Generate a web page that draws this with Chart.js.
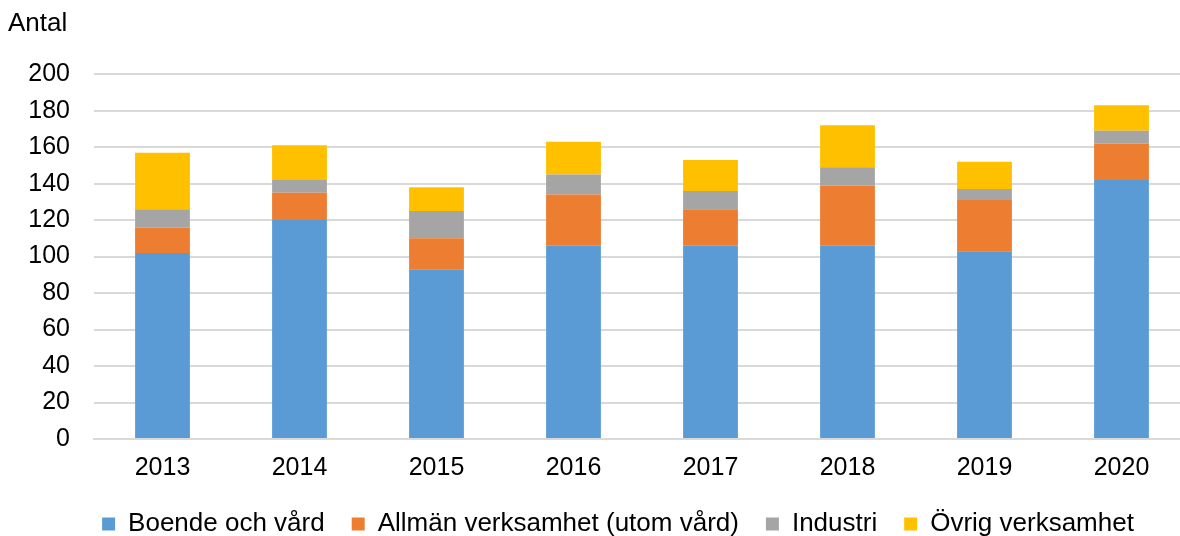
<!DOCTYPE html>
<html>
<head>
<meta charset="utf-8">
<script src="https://cdn.jsdelivr.net/npm/chart.js@4"></script>
<style>
	body { margin: 0; overflow: hidden; background: #fff; }
	#wrap { width: 1190px; height: 536px; }
</style>
</head>
<body>
<div id="wrap"><canvas id="chart"></canvas></div>
<script>
// DATA
const years = ["2013", "2014", "2015", "2016", "2017", "2018", "2019", "2020"];
const boende = [102, 120, 93, 106, 106, 106, 103, 142];
const allman = [14, 15, 17, 28, 20, 33, 28, 20];
const industri = [10, 7, 15, 11, 10, 10, 6, 7];
const ovrig = [31, 19, 13, 18, 17, 23, 15, 14];

const FONT = "'Liberation Sans', Arial, sans-serif";

// put the legend where the original has it (wider than the canvas, lower down)
// and let the year labels spill past the axis box without being clipped
const legendShift = {
	id: "legendShift",
	afterLayout(chart) {
		const l = chart.legend;
		if (l) {
			const h = l.bottom - l.top;
			l.left = 0;
			l.right = 1236;
			l.top = 484;
			l.bottom = 484 + h;
		}
		if (chart.scales.x) chart.scales.x.bottom = 500;
	}
};

const ctx = document.getElementById("chart");
new Chart(ctx, {
	type: "bar",
	data: {
		labels: years,
		datasets: [
			{label: "Boende och vård", data: boende, backgroundColor: "#5B9BD5"},
			{label: "Allmän verksamhet (utom vård)", data: allman, backgroundColor: "#ED7D31"},
			{label: "Industri", data: industri, backgroundColor: "#A5A5A5"},
			{label: "Övrig verksamhet", data: ovrig, backgroundColor: "#FFC000"}
		]
	},
	options: {
		responsive: true,
		maintainAspectRatio: false,
		animation: false,
		layout: {padding: {left: 8, right: 0, top: 8, bottom: 0}},
		datasets: {
			bar: {categoryPercentage: 1, barPercentage: 0.4, borderWidth: 0}
		},
		plugins: {
			title: {
				display: true,
				text: "Antal",
				align: "start",
				color: "#000",
				font: {family: FONT, size: 26, weight: "normal"},
				padding: {top: 0, bottom: 35}
			},
			legend: {
				position: "bottom",
				labels: {
					color: "#000",
					font: {family: FONT, size: 26},
					boxWidth: 13,
					boxHeight: 13,
					padding: 27
				}
			},
			tooltip: {enabled: false}
		},
		scales: {
			x: {
				stacked: true,
				grid: {display: false, drawTicks: false},
				border: {color: "#D9D9D9", width: 2},
				ticks: {color: "#000", font: {family: FONT, size: 25}, padding: 14},
				afterFit(scale) { scale.height = 34; }
			},
			y: {
				stacked: true,
				min: 0,
				max: 200,
				ticks: {stepSize: 20, color: "#000", font: {family: FONT, size: 25}, padding: 24},
				grid: {color: "#D9D9D9", lineWidth: 2, drawTicks: false},
				border: {display: false},
				afterFit(scale) { scale.width = 86; }
			}
		}
	},
	plugins: [legendShift]
});
</script>
</body>
</html>
